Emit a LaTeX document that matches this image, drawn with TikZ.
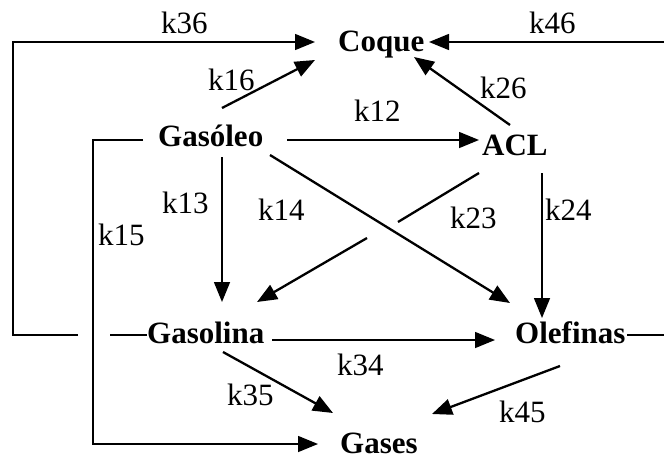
\documentclass[tikz,border=0pt]{standalone}
\usepackage{fontspec}
\setmainfont{Liberation Serif}
\usetikzlibrary{arrows.meta}
\begin{document}
\begin{tikzpicture}[x=1pt,y=-1pt,
  lbl/.style={anchor=base west,inner sep=0pt,font=\fontsize{31}{37}\selectfont},
  spc/.style={anchor=base west,inner sep=0pt,font=\fontsize{31}{37}\selectfont\bfseries},
  ln/.style={line width=1.5pt},
  dl/.style={line width=2.3pt},
  tip/.style={-{Triangle[length=20pt,width=16pt]}}]
\useasboundingbox[fill=white] (0,0) rectangle (664,458);
% species
\node[spc] (coque) at (338,51) {Coque};
\node[spc] (gasoleo) at (158,146) {Gasóleo};
\node[spc] (acl) at (482,155) {ACL};
\node[spc] (gasolina) at (147,343) {Gasolina};
\node[spc] (olefinas) at (515,343) {Olefinas};
\node[spc] (gases) at (340,453) {Gases};
% rate constants
\node[lbl] (l36) at (161,33) {k36};
\node[lbl] (l46) at (529,33) {k46};
\node[lbl] (l16) at (208,90) {k16};
\node[lbl] (l26) at (480,98) {k26};
\node[lbl] (l12) at (354,121) {k12};
\node[lbl] (l13) at (162,213) {k13};
\node[lbl] (l14) at (258,220) {k14};
\node[lbl] (l23) at (450,228) {k23};
\node[lbl] (l24) at (545,220) {k24};
\node[lbl] (l15) at (98,245) {k15};
\node[lbl] (l34) at (337,375) {k34};
\node[lbl] (l35) at (227,405) {k35};
\node[lbl] (l45) at (499,422) {k45};
% connector end points
\coordinate (s16) at (222,108); \coordinate (t16) at (315,60);
\coordinate (s26) at (510,125); \coordinate (t26) at (414,57);
\coordinate (s12) at (287,140); \coordinate (t12) at (479,140);
\coordinate (s13) at (222,157); \coordinate (t13) at (222,302);
\coordinate (s14) at (270,155); \coordinate (t14) at (510,303);
\coordinate (s23) at (479,173); \coordinate (g23a) at (398,222);
\coordinate (g23b) at (367,238); \coordinate (t23) at (257,302);
\coordinate (s24) at (542,173); \coordinate (t24) at (542,318);
\coordinate (s34) at (272,340); \coordinate (t34) at (495,340);
\coordinate (s35) at (223,352); \coordinate (t35) at (333,413);
\coordinate (s45) at (560,366); \coordinate (t45) at (432,414);
\coordinate (s15) at (143,140); \coordinate (c15a) at (93,140);
\coordinate (c15b) at (93,444); \coordinate (t15) at (318,444);
\coordinate (s36) at (147,335); \coordinate (g36a) at (110,335);
\coordinate (g36b) at (78,335); \coordinate (c36a) at (13,335);
\coordinate (c36b) at (13,42); \coordinate (t36) at (315,42);
\coordinate (s46) at (627,335); \coordinate (c46a) at (668,335);
\coordinate (c46b) at (668,42); \coordinate (t46) at (429,42);
% connectors
\draw[dl,tip] (s16) -- (t16);
\draw[dl,tip] (s26) -- (t26);
\draw[ln,tip] (s12) -- (t12);
\draw[ln,tip] (s13) -- (t13);
\draw[dl,tip] (s14) -- (t14);
\draw[dl] (s23) -- (g23a);
\draw[dl,tip] (g23b) -- (t23);
\draw[ln,tip] (s24) -- (t24);
\draw[ln,tip] (s34) -- (t34);
\draw[dl,tip] (s35) -- (t35);
\draw[dl,tip] (s45) -- (t45);
\draw[ln,tip] (s15) -- (c15a) -- (c15b) -- (t15);
\draw[ln] (s36) -- (g36a);
\draw[ln,tip] (g36b) -- (c36a) -- (c36b) -- (t36);
\draw[ln,tip] (s46) -- (c46a) -- (c46b) -- (t46);
\end{tikzpicture}
\end{document}
